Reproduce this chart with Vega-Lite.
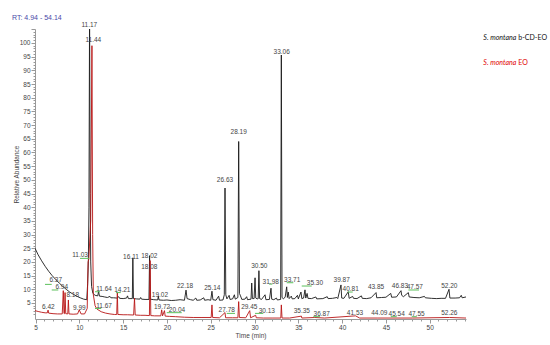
{
  "$schema": "https://vega.github.io/schema/vega-lite/v6.json",
  "width": 431,
  "height": 290,
  "autosize": {"type": "none"},
  "padding": {"left": 35, "top": 29, "right": 84, "bottom": 26},
  "background": "white",
  "title": {"text": "RT: 4.94 - 54.14", "anchor": "start", "frame": "group", "dx": -23, "dy": 8, "offset": 9, "fontSize": 7, "font": "Liberation Sans", "fontWeight": "normal", "color": "#4a4aa8"},
  "config": {
    "view": {"stroke": null},
    "axis": {"labelFont": "Liberation Sans", "titleFont": "Liberation Sans", "labelFontSize": 6.5, "titleFontSize": 6.5, "titleFontWeight": "normal", "labelColor": "#444", "titleColor": "#444", "domainColor": "#999", "tickColor": "#999", "grid": false}
  },
  "datasets": {
    "black": [
      {"t":4.94,"u":25.0},{"t":5.3,"u":22.6},{"t":5.7,"u":20.4},{"t":6.1,"u":18.4},{"t":6.5,"u":16.6},{"t":6.9,"u":15.0},{"t":7.3,"u":13.6},{"t":7.7,"u":12.3},{"t":8.1,"u":11.1},{"t":8.5,"u":10.0},{"t":8.9,"u":9.0},{"t":9.3,"u":8.2},{"t":9.7,"u":7.5},{"t":10.1,"u":6.9},{"t":10.5,"u":6.4},{"t":10.85,"u":6.2},{"t":10.95,"u":12},{"t":11.03,"u":20},{"t":11.1,"u":40},{"t":11.17,"u":112},{"t":11.24,"u":45},{"t":11.3,"u":20},{"t":11.4,"u":11},{"t":11.55,"u":8.5},{"t":11.8,"u":7.8},{"t":12.1,"u":7.6},{"t":12.2,"u":9.2},{"t":12.3,"u":7.5},{"t":12.6,"u":7.4},{"t":12.9,"u":7.2},{"t":13.2,"u":7.0},{"t":13.5,"u":7.4},{"t":13.6,"u":6.9},{"t":13.9,"u":6.9},{"t":14.3,"u":6.8},{"t":14.5,"u":7.3},{"t":14.6,"u":6.7},{"t":15.0,"u":6.6},{"t":15.4,"u":6.8},{"t":15.5,"u":7.6},{"t":15.6,"u":6.6},{"t":16.05,"u":6.6},{"t":16.11,"u":21.5},{"t":16.18,"u":6.6},{"t":16.5,"u":6.5},{"t":16.9,"u":6.4},{"t":17.0,"u":7.0},{"t":17.1,"u":6.4},{"t":17.5,"u":6.3},{"t":17.95,"u":6.3},{"t":18.02,"u":22.3},{"t":18.1,"u":6.4},{"t":18.5,"u":6.2},{"t":18.95,"u":6.1},{"t":19.02,"u":7.5},{"t":19.1,"u":6.1},{"t":19.6,"u":6.0},{"t":20.0,"u":6.1},{"t":20.5,"u":5.9},{"t":21.0,"u":6.0},{"t":21.5,"u":6.2},{"t":22.0,"u":6.0},{"t":22.18,"u":9.7},{"t":22.3,"u":6.6},{"t":22.7,"u":6.2},{"t":23.0,"u":6.0},{"t":23.3,"u":6.8},{"t":23.4,"u":6.0},{"t":23.8,"u":6.1},{"t":24.2,"u":6.9},{"t":24.3,"u":6.0},{"t":24.7,"u":6.2},{"t":25.0,"u":6.0},{"t":25.14,"u":9.3},{"t":25.25,"u":6.2},{"t":25.6,"u":6.0},{"t":25.9,"u":7.5},{"t":26.0,"u":6.0},{"t":26.4,"u":6.1},{"t":26.55,"u":8},{"t":26.63,"u":47},{"t":26.72,"u":8},{"t":26.85,"u":6.5},{"t":27.1,"u":7.8},{"t":27.2,"u":6.3},{"t":27.5,"u":6.5},{"t":27.7,"u":8.0},{"t":27.8,"u":6.4},{"t":28.1,"u":7},{"t":28.19,"u":64},{"t":28.28,"u":8.5},{"t":28.4,"u":7.6},{"t":28.55,"u":6.3},{"t":28.9,"u":6.4},{"t":29.1,"u":7.3},{"t":29.2,"u":6.2},{"t":29.6,"u":6.4},{"t":29.68,"u":12.3},{"t":29.76,"u":6.6},{"t":29.95,"u":6.6},{"t":30.06,"u":14.2},{"t":30.14,"u":6.8},{"t":30.3,"u":6.5},{"t":30.42,"u":6.6},{"t":30.5,"u":16.8},{"t":30.58,"u":6.6},{"t":30.8,"u":6.3},{"t":31.2,"u":8.0},{"t":31.3,"u":6.2},{"t":31.7,"u":6.3},{"t":31.88,"u":10.4},{"t":31.96,"u":6.4},{"t":32.2,"u":6.2},{"t":32.5,"u":6.8},{"t":32.6,"u":6.1},{"t":32.98,"u":6.3},{"t":33.06,"u":95.6},{"t":33.14,"u":7.0},{"t":33.3,"u":6.5},{"t":33.5,"u":7.2},{"t":33.67,"u":10.9},{"t":33.75,"u":7.0},{"t":33.85,"u":9.0},{"t":33.95,"u":6.6},{"t":34.2,"u":7.5},{"t":34.3,"u":6.5},{"t":34.6,"u":6.6},{"t":34.9,"u":7.8},{"t":35.0,"u":6.5},{"t":35.3,"u":9.0},{"t":35.4,"u":6.6},{"t":35.6,"u":6.8},{"t":35.76,"u":9.8},{"t":35.85,"u":6.8},{"t":36.0,"u":8.5},{"t":36.1,"u":6.7},{"t":36.5,"u":6.6},{"t":37.0,"u":7.2},{"t":37.1,"u":6.5},{"t":37.8,"u":6.6},{"t":38.3,"u":7.3},{"t":38.4,"u":6.6},{"t":38.9,"u":6.7},{"t":39.4,"u":7.0},{"t":39.5,"u":6.6},{"t":39.87,"u":11.6},{"t":39.95,"u":6.8},{"t":40.2,"u":6.7},{"t":40.7,"u":9.1},{"t":40.8,"u":6.7},{"t":41.2,"u":7.4},{"t":41.3,"u":6.7},{"t":41.7,"u":6.6},{"t":42.2,"u":7.6},{"t":42.3,"u":6.7},{"t":42.8,"u":6.6},{"t":43.3,"u":6.9},{"t":43.87,"u":8.8},{"t":43.95,"u":6.9},{"t":44.5,"u":7.0},{"t":45.0,"u":7.1},{"t":45.55,"u":8.5},{"t":45.65,"u":7.1},{"t":46.2,"u":7.2},{"t":46.72,"u":9.5},{"t":46.8,"u":7.8},{"t":47.0,"u":7.3},{"t":47.56,"u":8.8},{"t":47.65,"u":7.2},{"t":48.2,"u":7.0},{"t":48.8,"u":6.9},{"t":49.4,"u":7.4},{"t":49.5,"u":6.9},{"t":50.2,"u":6.7},{"t":50.8,"u":6.6},{"t":51.3,"u":6.7},{"t":51.8,"u":6.7},{"t":52.2,"u":10.0},{"t":52.3,"u":6.8},{"t":52.9,"u":6.8},{"t":53.4,"u":6.9},{"t":53.6,"u":7.8},{"t":53.7,"u":6.9},{"t":54.14,"u":7.2}
    ],
    "red": [
      {"t":4.94,"u":2.2},{"t":5.3,"u":1.9},{"t":5.7,"u":1.6},{"t":6.1,"u":1.4},{"t":6.35,"u":1.4},{"t":6.43,"u":2.4},{"t":6.5,"u":1.3},{"t":7.0,"u":1.1},{"t":7.5,"u":1.0},{"t":8.05,"u":1.0},{"t":8.17,"u":9.5},{"t":8.25,"u":1.2},{"t":8.3,"u":1.1},{"t":8.37,"u":8.8},{"t":8.45,"u":1.1},{"t":8.68,"u":1.0},{"t":8.75,"u":6.1},{"t":8.82,"u":1.0},{"t":9.3,"u":0.9},{"t":9.8,"u":1.0},{"t":9.99,"u":2.5},{"t":10.2,"u":1.0},{"t":10.6,"u":1.0},{"t":10.9,"u":3},{"t":11.0,"u":20},{"t":11.08,"u":21},{"t":11.3,"u":35},{"t":11.44,"u":99},{"t":11.52,"u":30},{"t":11.6,"u":8},{"t":11.8,"u":4},{"t":12.0,"u":2.8},{"t":12.5,"u":1.8},{"t":13.0,"u":1.3},{"t":13.5,"u":1.0},{"t":14.0,"u":0.8},{"t":14.27,"u":0.8},{"t":14.34,"u":8.8},{"t":14.4,"u":0.8},{"t":15.0,"u":0.7},{"t":15.5,"u":0.7},{"t":16.2,"u":0.6},{"t":16.3,"u":6.7},{"t":16.38,"u":0.6},{"t":17.0,"u":0.5},{"t":17.5,"u":0.5},{"t":18.0,"u":0.4},{"t":18.08,"u":20.5},{"t":18.16,"u":0.4},{"t":18.6,"u":0.3},{"t":19.3,"u":0.3},{"t":19.4,"u":2.5},{"t":19.5,"u":0.3},{"t":19.72,"u":2.2},{"t":19.8,"u":0.2},{"t":20.3,"u":0.1},{"t":21.0,"u":0},{"t":22.0,"u":-0.2},{"t":23.0,"u":-0.3},{"t":24.0,"u":-0.3},{"t":25.05,"u":-0.3},{"t":25.14,"u":4.3},{"t":25.22,"u":-0.3},{"t":26.0,"u":-0.4},{"t":26.63,"u":1.5},{"t":26.7,"u":-0.4},{"t":27.5,"u":-0.4},{"t":28.1,"u":-0.4},{"t":28.19,"u":5.5},{"t":28.27,"u":-0.3},{"t":29.0,"u":-0.4},{"t":29.45,"u":2.2},{"t":29.55,"u":-0.4},{"t":30.13,"u":0.5},{"t":30.2,"u":-0.4},{"t":31.0,"u":-0.5},{"t":32.0,"u":-0.5},{"t":33.0,"u":-0.5},{"t":33.06,"u":4.3},{"t":33.14,"u":-0.5},{"t":34.0,"u":-0.5},{"t":35.35,"u":0.2},{"t":35.4,"u":-0.5},{"t":36.87,"u":-0.3},{"t":38.0,"u":-0.5},{"t":41.53,"u":0.3},{"t":42.0,"u":-0.5},{"t":44.0,"u":-0.5},{"t":48.0,"u":-0.5},{"t":52.26,"u":-0.3},{"t":54.14,"u":-0.5}
    ],
    "labels": [
      {"t":11.14,"u":106.7,"lab":"11.17"},{"t":11.6,"u":101.0,"lab":"11.44"},{"t":33.1,"u":96.8,"lab":"33.06"},{"t":28.19,"u":67.5,"lab":"28.19"},{"t":26.63,"u":50,"lab":"26.63"},{"t":10.08,"u":22.5,"lab":"11.03"},{"t":7.31,"u":13.3,"lab":"6.37"},{"t":7.99,"u":10.7,"lab":"6.94"},{"t":9.25,"u":7.9,"lab":"8.18"},{"t":6.46,"u":3.6,"lab":"6.42"},{"t":10.0,"u":3.1,"lab":"9.99"},{"t":12.82,"u":10.1,"lab":"11.64"},{"t":12.82,"u":3.9,"lab":"11.67"},{"t":14.91,"u":9.75,"lab":"14.21"},{"t":15.9,"u":21.7,"lab":"16.11"},{"t":17.99,"u":22.2,"lab":"18.02"},{"t":17.99,"u":18.3,"lab":"18.08"},{"t":19.2,"u":8,"lab":"19.02"},{"t":19.45,"u":3.6,"lab":"19.72"},{"t":21.15,"u":2.4,"lab":"20.04"},{"t":22.07,"u":11.2,"lab":"22.18"},{"t":25.18,"u":10.4,"lab":"25.14"},{"t":26.83,"u":2.4,"lab":"27.78"},{"t":29.4,"u":3.4,"lab":"29.45"},{"t":31.4,"u":2.2,"lab":"30.13"},{"t":30.55,"u":18.6,"lab":"30.50"},{"t":31.85,"u":12.8,"lab":"31.98"},{"t":34.3,"u":13.4,"lab":"33.71"},{"t":35.4,"u":2.2,"lab":"35.35"},{"t":36.9,"u":12.2,"lab":"35.30"},{"t":37.67,"u":1.0,"lab":"36.87"},{"t":39.95,"u":13.4,"lab":"39.87"},{"t":40.98,"u":10.1,"lab":"40.81"},{"t":41.47,"u":1.5,"lab":"41.53"},{"t":43.87,"u":10.7,"lab":"43.85"},{"t":44.25,"u":1.2,"lab":"44.09"},{"t":46.23,"u":1.0,"lab":"45.54"},{"t":46.6,"u":11.3,"lab":"46.83"},{"t":48.3,"u":10.7,"lab":"47.57"},{"t":48.5,"u":1.0,"lab":"47.55"},{"t":52.24,"u":11.2,"lab":"52.20"},{"t":52.24,"u":1.2,"lab":"52.26"}
    ],
    "connectors": [
      {"t1":6.08,"t2":6.85,"u":11.8},{"t1":6.85,"t2":7.6,"u":9.75},{"t1":10.08,"t2":11.14,"u":21.3},{"t1":11.79,"t2":12.36,"u":9.1},{"t1":11.79,"t2":12.5,"u":3.0},{"t1":14.19,"t2":14.73,"u":8.8},{"t1":19.98,"t2":21.69,"u":1.46},{"t1":26.83,"t2":27.77,"u":1.2},{"t1":30.06,"t2":31.0,"u":1.2},{"t1":31.66,"t2":32.03,"u":11.9},{"t1":33.67,"t2":34.43,"u":12.4},{"t1":35.39,"t2":36.53,"u":11.2},{"t1":36.71,"t2":37.48,"u":0},{"t1":40.64,"t2":41.21,"u":9.0},{"t1":45.55,"t2":46.23,"u":0},{"t1":47.56,"t2":48.78,"u":9.75},{"t1":47.95,"t2":48.52,"u":0}
    ],
    "legend": [
      {"t":56.12,"u":101.7,"it":"S. montana","rest":"b-CD-EO","grp":"b"},
      {"t":56.12,"u":92.8,"it":"S. montana","rest":"EO","grp":"r"}
    ]
  },
  "encoding": {
    "x": {"field": "t", "type": "quantitative", "scale": {"domain": [4.94, 54.14], "nice": false, "zero": false},
      "axis": {"title": "Time (min)", "titlePadding": 2, "values": [5,6,7,8,9,10,11,12,13,14,15,16,17,18,19,20,21,22,23,24,25,26,27,28,29,30,31,32,33,34,35,36,37,38,39,40,41,42,43,44,45,46,47,48,49,50,51,52,53,54],
        "labelExpr": "datum.value % 5 == 0 ? datum.label : ''", "labelFlush": false, "labelPadding": 1,
        "tickSize": {"condition": {"test": "datum.value % 5 == 0", "value": 4}, "value": 2}}},
    "y": {"field": "u", "type": "quantitative", "scale": {"domain": [-0.85, 105.1], "nice": false, "zero": false},
      "axis": {"title": "Relative Abundance", "titlePadding": 0, "values": [1,2,3,4,5,6,7,8,9,10,11,12,13,14,15,16,17,18,19,20,21,22,23,24,25,26,27,28,29,30,31,32,33,34,35,36,37,38,39,40,41,42,43,44,45,46,47,48,49,50,51,52,53,54,55,56,57,58,59,60,61,62,63,64,65,66,67,68,69,70,71,72,73,74,75,76,77,78,79,80,81,82,83,84,85,86,87,88,89,90,91,92,93,94,95,96,97,98,99,100,101,102,103,104,105],
        "labelExpr": "datum.value % 5 == 0 && datum.value <= 100 ? datum.label : ''", "labelPadding": 1,
        "tickSize": {"condition": {"test": "datum.value % 5 == 0", "value": 4}, "value": 2}}}
  },
  "layer": [
    {"mark": {"type": "rule", "color": "#999", "strokeWidth": 1}, "encoding": {"x": {"datum": 4.94}, "y": {"datum": 5}, "x2": {"datum": 54.14}}},
    {"mark": {"type": "rule", "color": "#999", "strokeWidth": 1}, "encoding": {"x": {"datum": 4.94}, "y": {"datum": 105.1}, "x2": {"datum": 54.14}}},
    {"mark": {"type": "rule", "color": "#999", "strokeWidth": 1}, "encoding": {"x": {"datum": 54.14}, "y": {"datum": 5}, "y2": {"datum": 105.1}}},
    {"data": {"name": "black"}, "mark": {"type": "line", "color": "#1a1a1a", "strokeWidth": 0.9, "clip": true}, "encoding": {}},
    {"data": {"name": "red"}, "mark": {"type": "line", "color": "#b81414", "strokeWidth": 0.9, "clip": true}, "encoding": {}},
    {"data": {"name": "connectors"}, "mark": {"type": "rule", "color": "#5cc05c", "strokeWidth": 1}, "encoding": {"x": {"field": "t1", "type": "quantitative"}, "x2": {"field": "t2"}, "y": {"field": "u", "type": "quantitative"}}},
    {"data": {"name": "labels"}, "mark": {"type": "text", "font": "Liberation Sans", "fontSize": 6.5, "color": "#444", "align": "center", "baseline": "middle"}, "encoding": {"text": {"field": "lab"}}},
    {"data": {"name": "legend"}, "mark": {"type": "text", "font": "Lato", "fontSize": 7, "fontStyle": "italic", "align": "left", "baseline": "middle"}, "encoding": {"text": {"field": "it"}, "color": {"field": "grp", "type": "nominal", "scale": {"domain": ["b", "r"], "range": ["#111", "#e00000"]}, "legend": null}}},
    {"data": {"name": "legend"}, "mark": {"type": "text", "font": "Lato", "fontSize": 7, "align": "left", "baseline": "middle", "dx": 35}, "encoding": {"text": {"field": "rest"}, "color": {"field": "grp", "type": "nominal", "scale": {"domain": ["b", "r"], "range": ["#111", "#e00000"]}, "legend": null}}}
  ]
}
